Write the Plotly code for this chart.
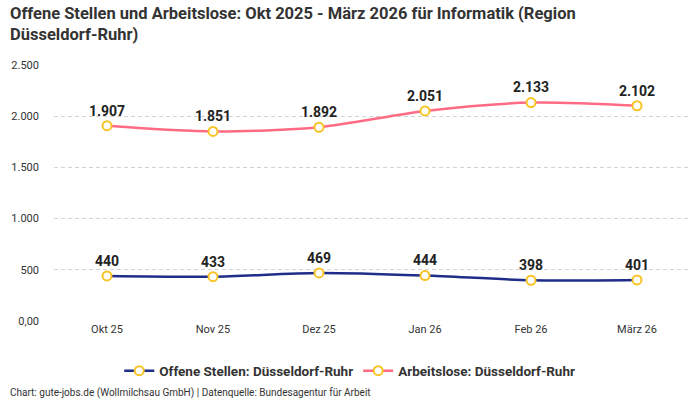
import plotly.graph_objects as go

# Kategorien und Werte
monate = ["Okt 25", "Nov 25", "Dez 25", "Jan 26", "Feb 26", "März 26"]
offene_stellen = [440, 433, 469, 444, 398, 401]
arbeitslose = [1907, 1851, 1892, 2051, 2133, 2102]

y_tickvals = [0, 500, 1000, 1500, 2000, 2500]
y_ticktext = ["0,00", "500", "1.000", "1.500", "2.000", "2.500"]

font_family = "Roboto, sans-serif"
text_color = "#333333"
marker_style = dict(size=9, color="white", line=dict(color="#f7c325", width=2))


def fmt(v):
    return "<b>" + f"{v:,}".replace(",", ".") + "</b>"


fig = go.Figure()

fig.add_trace(
    go.Scatter(
        x=monate,
        y=offene_stellen,
        mode="lines+markers+text",
        name="<b>Offene Stellen: Düsseldorf-Ruhr</b>",
        line=dict(color="#1f2d8a", width=2.5, shape="spline", smoothing=0.8),
        marker=marker_style,
        text=[fmt(v) for v in offene_stellen],
        textposition="top center",
        textfont=dict(size=14, color="#222222", family=font_family),
    )
)

fig.add_trace(
    go.Scatter(
        x=monate,
        y=arbeitslose,
        mode="lines+markers+text",
        name="<b>Arbeitslose: Düsseldorf-Ruhr</b>",
        line=dict(color="#ff6b84", width=2.5, shape="spline", smoothing=0.8),
        marker=marker_style,
        text=[fmt(v) for v in arbeitslose],
        textposition="top center",
        textfont=dict(size=14, color="#222222", family=font_family),
    )
)

# Plotbereich: x 54..690, y 65..321 (in Pixeln)
fig.update_layout(
    width=700,
    height=400,
    margin=dict(l=54, r=10, t=65, b=79),
    paper_bgcolor="white",
    plot_bgcolor="white",
    font=dict(family=font_family, size=11, color=text_color),
    legend=dict(
        orientation="h",
        x=0.465,
        xanchor="center",
        y=-0.195,
        yanchor="middle",
        font=dict(size=13.5, color=text_color, family=font_family),
    ),
    showlegend=True,
    annotations=[
        dict(
            text="<b>Offene Stellen und Arbeitslose: Okt 2025 - März 2026 für Informatik (Region<br>Düsseldorf-Ruhr)</b>",
            xref="paper",
            yref="paper",
            x=-0.072,
            y=1.245,
            xanchor="left",
            yanchor="top",
            align="left",
            showarrow=False,
            font=dict(size=16.5, color=text_color, family=font_family),
        ),
        dict(
            text="Chart: gute-jobs.de (Wollmilchsau GmbH) | Datenquelle: Bundesagentur für Arbeit",
            xref="paper",
            yref="paper",
            x=-0.072,
            y=-0.281,
            xanchor="left",
            yanchor="middle",
            showarrow=False,
            font=dict(size=10, color=text_color, family=font_family),
        ),
    ],
)

fig.update_xaxes(
    type="category",
    range=[-0.5, 5.5],
    showgrid=False,
    showline=False,
    ticks="",
    tickfont=dict(size=11, color=text_color),
)
fig.update_yaxes(
    range=[0, 2500],
    tickvals=y_tickvals,
    ticktext=y_ticktext,
    showgrid=True,
    gridcolor="#d4d4d4",
    griddash="4px,3px",
    gridwidth=1,
    zeroline=False,
    showline=False,
    ticklabelstandoff=14,
    tickfont=dict(size=11, color=text_color),
)

fig.write_html(
    "out.html",
    config={"displayModeBar": False},
    post_script="document.body.style.margin='0';",
)
